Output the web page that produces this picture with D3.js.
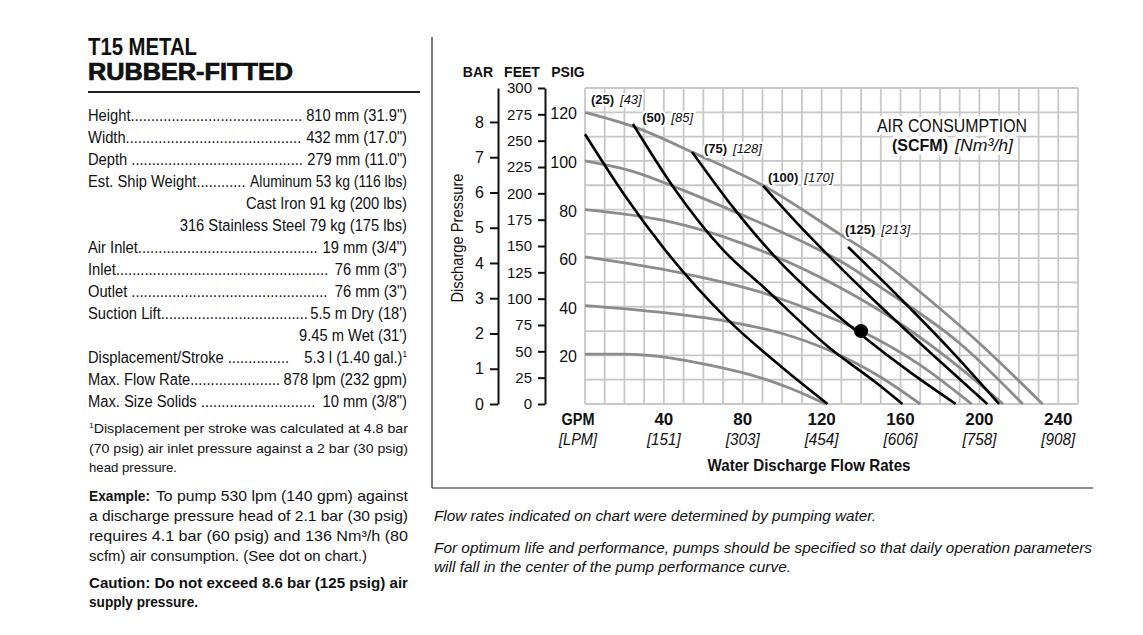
<!DOCTYPE html>
<html>
<head>
<meta charset="utf-8">
<script src="https://cdn.jsdelivr.net/npm/d3@7"></script>
<style>
  body { margin: 0; background: #fff; }
  svg text { font-family: "Liberation Sans", Arial, sans-serif; fill: #111; }
</style>
</head>
<body>
<script>
// ---- data ----
const gpmTicks = [40, 80, 120, 160, 200, 240];
const lpmTicks = ["[151]", "[303]", "[454]", "[606]", "[758]", "[908]"];
const barTicks = [0, 1, 2, 3, 4, 5, 6, 7, 8];
const feetTicks = [0, 25, 50, 75, 100, 125, 150, 175, 200, 225, 250, 275, 300];
const psigTicks = [20, 40, 60, 80, 100, 120];

// air inlet pressure curves (psig), points are [gpm, discharge psig]
const airPsig = [20, 40, 60, 80, 100, 120];
const pressureCurves = [
  [[0, 20.5], [20, 20.5], [43, 19], [63, 16], [84, 12], [104, 6.5], [122, 0]],
  [[0, 40.5], [35, 38], [72, 34], [100, 29], [124, 22], [150, 11], [170, 0]],
  [[0, 60.5], [48, 54], [89, 46], [115, 38.5], [140, 30], [170, 16], [196, 0]],
  [[0, 80], [40, 75.5], [80, 66], [129, 48], [160, 33], [190, 15], [212, 0]],
  [[0, 100], [25, 95.5], [48, 88.5], [79, 78], [116, 64.5], [129, 59], [150, 48], [190, 25], [222, 0]],
  [[0, 120], [25, 114], [56, 103], [90, 90], [129, 70], [150, 59], [173, 44], [200, 25], [232, 0]]
];

// air consumption curves
const scfm = [25, 50, 75, 100, 125];
const nm3h = [43, 85, 128, 170, 213];
const consumptionCurves = [
  [[0, 111], [20, 86], [40, 64], [72, 35], [100, 15], [123, 0]],
  [[24.3, 115.2], [45, 89], [70, 63.4], [92, 47], [122.7, 24], [149.6, 7.5], [161, 0]],
  [[54.3, 103.7], [75, 81], [97, 60], [120, 42], [140, 28.5], [165, 13], [188, 0]],
  [[90.3, 89.7], [108, 74], [126, 59], [150, 40], [178, 19], [204, 0]],
  [[133.4, 64.6], [160.7, 42.8], [185, 22.5], [210, 0]]
];

const examplePoint = [140, 30];

const specLabels = ["Height", "Width", "Depth\u00a0", "Est. Ship Weight", "", "", "Air Inlet", "Inlet",
  "Outlet\u00a0", "Suction Lift", "", "Displacement/Stroke\u00a0", "Max. Flow Rate", "Max. Size Solids\u00a0"];
const specValues = ["810 mm (31.9\")", "432 mm (17.0\")", "279 mm (11.0\")", "Aluminum 53 kg (116 lbs)",
  "Cast Iron 91 kg (200 lbs)", "316 Stainless Steel 79 kg (175 lbs)", "19 mm (3/4\")", "\u00a076 mm (3\")",
  "\u00a076 mm (3\")", "5.5 m Dry (18')", "9.45 m Wet (31')", "\u00a0\u00a0\u00a05.3 l (1.40 gal.)",
  "878 lpm (232 gpm)", "\u00a010 mm (3/8\")"];

// ---- drawing ----
const svg = d3.select("body").append("svg").attr("width", 1143).attr("height", 635);

const x = d3.scaleLinear().domain([0, 250]).range([585, 1078]);
const y = d3.scaleLinear().domain([0, 130]).range([404, 88]);
const yBar = d3.scaleLinear().domain([0, 130 / 14.5038]).range([404, 88]);
const yFeet = d3.scaleLinear().domain([0, 300]).range([404, 88]);

function txt(g, px, py, s, o) {
  o = o || {};
  const t = g.append("text").attr("x", px).attr("y", py)
    .attr("font-size", o.size || 15)
    .attr("font-weight", o.bold ? "bold" : null)
    .attr("font-style", o.italic ? "italic" : null)
    .attr("text-anchor", o.anchor || "start")
    .text(s);
  if (o.len) t.attr("textLength", o.len).attr("lengthAdjust", "spacingAndGlyphs");
  return t;
}

// frame lines
svg.append("line").attr("x1", 432).attr("x2", 432).attr("y1", 37).attr("y2", 488)
  .attr("stroke", "#222").attr("stroke-width", 1.2);
svg.append("line").attr("x1", 432).attr("x2", 1093).attr("y1", 488).attr("y2", 488)
  .attr("stroke", "#222").attr("stroke-width", 1.2);

// grid
const grid = svg.append("g").attr("stroke", "#c8c8c8").attr("stroke-width", 1.8);
grid.selectAll(".v").data(d3.range(0, 251, 10)).join("line").attr("class", "v")
  .attr("x1", d => x(d)).attr("x2", d => x(d)).attr("y1", y(0)).attr("y2", y(130));
grid.selectAll(".h").data(d3.range(0, 131, 10)).join("line").attr("class", "h")
  .attr("x1", x(0)).attr("x2", x(250)).attr("y1", d => y(d)).attr("y2", d => y(d));

const line = d3.line().x(d => x(d[0])).y(d => y(d[1])).curve(d3.curveMonotoneX);

svg.append("g").selectAll("path").data(pressureCurves).join("path")
  .attr("d", line).attr("fill", "none").attr("stroke", "#8c8c8c").attr("stroke-width", 2.8);
svg.append("g").selectAll("path").data(consumptionCurves).join("path")
  .attr("d", line).attr("fill", "none").attr("stroke", "#000").attr("stroke-width", 2.6);

// curve labels
const labelAt = [[3, 123.4], [29, 116], [60.3, 103.3], [92.8, 91.3], [131.8, 70]];
scfm.forEach((v, i) => {
  const b = txt(svg, x(labelAt[i][0]), y(labelAt[i][1]), "(" + v + ")", {size: 13, bold: true})
    .attr("stroke", "#fff").attr("stroke-width", 4).attr("paint-order", "stroke");
  const w = b.node().getComputedTextLength();
  txt(svg, x(labelAt[i][0]) + w + 6, y(labelAt[i][1]), "[" + nm3h[i] + "]", {size: 13, italic: true})
    .attr("stroke", "#fff").attr("stroke-width", 4).attr("paint-order", "stroke");
});

// air consumption title
txt(svg, 952, 132, "AIR CONSUMPTION", {size: 18, anchor: "middle", len: 150})
  .attr("stroke", "#fff").attr("stroke-width", 7).attr("paint-order", "stroke").attr("stroke-linejoin", "round");
txt(svg, 892, 151, "(SCFM)", {size: 17, bold: true, len: 56})
  .attr("stroke", "#fff").attr("stroke-width", 7).attr("paint-order", "stroke").attr("stroke-linejoin", "round");
txt(svg, 955, 151, "[Nm\u00b3/h]", {size: 17, italic: true, len: 58})
  .attr("stroke", "#fff").attr("stroke-width", 7).attr("paint-order", "stroke").attr("stroke-linejoin", "round");

// example dot
svg.append("circle").attr("cx", x(examplePoint[0])).attr("cy", y(examplePoint[1])).attr("r", 7).attr("fill", "#000");

// left axes
function styleAxis(g, size) {
  g.select(".domain").attr("stroke", "#111").attr("stroke-width", 2);
  g.selectAll(".tick line").attr("stroke", "#111").attr("stroke-width", 2);
  g.selectAll(".tick text").attr("font-size", size).attr("fill", "#111");
}
svg.append("g").attr("transform", "translate(498,0)")
  .call(d3.axisLeft(yBar).tickValues(barTicks).tickSize(8).tickSizeOuter(0).tickPadding(6))
  .call(g => styleAxis(g, 16));
svg.append("g").attr("transform", "translate(545,0)")
  .call(d3.axisLeft(yFeet).tickValues(feetTicks).tickSize(7).tickSizeOuter(0).tickPadding(6))
  .call(g => styleAxis(g, 15));
psigTicks.forEach(v => txt(svg, 577, y(v) + 7, v, {size: 16, anchor: "end"}));

txt(svg, 478, 77, "BAR", {size: 14, bold: true, anchor: "middle"});
txt(svg, 522, 77, "FEET", {size: 14, bold: true, anchor: "middle"});
txt(svg, 568, 77, "PSIG", {size: 14, bold: true, anchor: "middle"});
txt(svg, 0, 0, "Discharge Pressure", {size: 16, anchor: "middle", len: 129})
  .attr("transform", "translate(463,238) rotate(-90)");

// bottom axis labels
txt(svg, 578, 425, "GPM", {size: 16, bold: true, anchor: "middle", len: 33});
txt(svg, 578, 445, "[LPM]", {size: 16, italic: true, anchor: "middle", len: 38});
gpmTicks.forEach((v, i) => {
  txt(svg, x(v), 425, v, {size: 17, bold: true, anchor: "middle"});
  txt(svg, x(v), 445, lpmTicks[i], {size: 16, italic: true, anchor: "middle", len: 34});
});
txt(svg, 809, 471, "Water Discharge Flow Rates", {size: 17, bold: true, anchor: "middle", len: 203});

// notes under chart
txt(svg, 434, 521, "Flow rates indicated on chart were determined by pumping water.", {size: 15, italic: true, len: 442});
txt(svg, 434, 553, "For optimum life and performance, pumps should be specified so that daily operation parameters", {size: 15, italic: true, len: 658});
txt(svg, 434, 572, "will fall in the center of the pump performance curve.", {size: 15, italic: true, len: 357});

// left panel
txt(svg, 88, 55, "T15 METAL", {size: 23, bold: true, len: 109});
txt(svg, 88, 80, "RUBBER-FITTED", {size: 23, bold: true, len: 205})
  .attr("stroke", "#111").attr("stroke-width", 0.7);
svg.append("line").attr("x1", 88).attr("x2", 420).attr("y1", 92).attr("y2", 92)
  .attr("stroke", "#222").attr("stroke-width", 2);

const sx = 0.92, R = (407 - 88) / sx;
const spec = svg.append("g").attr("transform", "translate(88,0) scale(" + sx + ",1)");
const dotW = (() => { const t = txt(spec, 0, -50, "..........", {size: 16}); const w = t.node().getComputedTextLength() / 10; t.remove(); return w; })();
specLabels.forEach((lab, i) => {
  const by = 121 + 22 * i;
  const v = txt(spec, R, by, specValues[i], {size: 16, anchor: "end"});
  if (i === 3) v.attr("textLength", 157 / sx).attr("lengthAdjust", "spacingAndGlyphs");
  if (i === 11) v.append("tspan").attr("font-size", 9).attr("dy", -6).text("1");
  if (!lab) return;
  const l = txt(spec, 0, by, lab, {size: 16});
  const lw = l.node().getComputedTextLength();
  const vw = i === 3 ? 157 / sx : v.node().getComputedTextLength();
  const n = Math.floor((R - vw - lw - 1) / dotW);
  txt(spec, lw, by, ".".repeat(Math.max(n, 0)), {size: 16});
});

// footnote
const f1 = txt(svg, 89, 433, "", {size: 13.5, len: 319});
f1.append("tspan").attr("font-size", 8).attr("dy", -5).text("1");
f1.append("tspan").attr("dy", 5).text("Displacement per stroke was calculated at 4.8 bar");
txt(svg, 89, 452.5, "(70 psig) air inlet pressure against a 2 bar (30 psig)", {size: 13.5, len: 319});
txt(svg, 89, 472, "head pressure.", {size: 13.5, len: 88});

txt(svg, 89, 501, "Example:", {size: 15, bold: true, len: 61});
txt(svg, 156, 501, "To pump 530 lpm (140 gpm) against", {size: 15, len: 252});
txt(svg, 89, 521, "a discharge pressure head of 2.1 bar (30 psig)", {size: 15, len: 319});
txt(svg, 89, 541, "requires 4.1 bar (60 psig) and 136 Nm\u00b3/h (80", {size: 15, len: 319});
txt(svg, 89, 561, "scfm) air consumption. (See dot on chart.)", {size: 15, len: 278});
txt(svg, 89, 588, "Caution: Do not exceed 8.6 bar (125 psig) air", {size: 15, bold: true, len: 319});
txt(svg, 89, 607, "supply pressure.", {size: 15, bold: true, len: 109});
</script>
</body>
</html>
